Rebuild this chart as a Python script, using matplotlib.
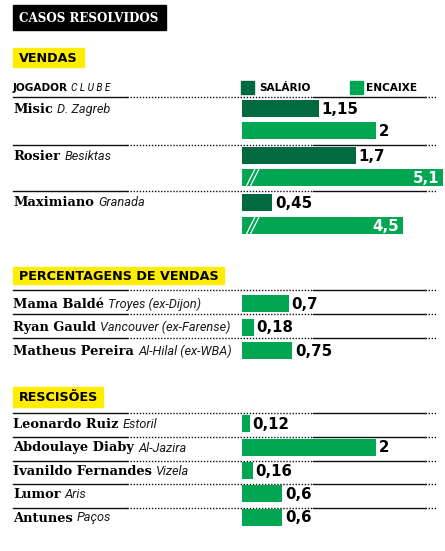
import matplotlib
matplotlib.use("Agg")
import matplotlib.pyplot as plt
from matplotlib.patches import Rectangle

# Dados (milhões de euros)
vendas_jogadores = ["Misic", "Rosier", "Maximiano"]
vendas_clubes = ["D. Zagreb", "Besiktas", "Granada"]
vendas_salario = [1.15, 1.7, 0.45]
vendas_encaixe = [2, 5.1, 4.5]

pct_jogadores = ["Mama Baldé", "Ryan Gauld", "Matheus Pereira"]
pct_clubes = ["Troyes (ex-Dijon)", "Vancouver (ex-Farense)", "Al-Hilal (ex-WBA)"]
pct_valores = [0.7, 0.18, 0.75]

resc_jogadores = ["Leonardo Ruiz", "Abdoulaye Diaby", "Ivanildo Fernandes", "Lumor", "Antunes"]
resc_clubes = ["Estoril", "Al-Jazira", "Vizela", "Aris", "Paços"]
resc_valores = [0.12, 2, 0.16, 0.6, 0.6]

ESCALA_MAX = 3.0      # acima disto a barra é "partida"
CORTE = 2.1           # valor retirado às barras partidas

VERDE_ESC = "#00693f"
VERDE = "#00a651"
AMARELO = "#ffed00"

W, H = 445, 551
fig = plt.figure(figsize=(W / 100, H / 100), dpi=100)
ax = fig.add_axes([0, 0, 1, 1])
ax.set_xlim(0, W)
ax.set_ylim(H, 0)
ax.axis("off")

# eixo das barras (escala em valores, ~67 px por unidade)
X0 = 242
bx = fig.add_axes([X0 / W, 0, (W - X0) / W, 1])
bx.set_xlim(0, (W - X0) / 67)
bx.set_ylim(H, 0)
bx.axis("off")
bx.patch.set_alpha(0)

NOME = dict(family="DejaVu Serif", weight="bold", size=9.4)
CLUBE = dict(family="Roboto", style="italic", weight="normal", size=9.2, color="#1a1a1a")
VALOR = dict(family="DejaVu Sans", weight="bold", size=10.8)
SECCAO = dict(family="DejaVu Sans", weight="bold", size=9.2)


def separador(y):
    ax.plot([13, 127], [y, y], color="#111111", lw=1.0)
    ax.plot([127, 313], [y, y], color="#111111", lw=1.0, ls=(0, (1, 1.2)))
    ax.plot([313, 425], [y, y], color="#111111", lw=1.0)
    ax.plot([425, 437], [y, y], color="#111111", lw=1.0, ls=(0, (1, 1.2)))


def nome(y, jogador, clube):
    t = ax.text(13, y + 4.5, jogador, va="baseline", ha="left", **NOME)
    ax.annotate(clube, xy=(1, y + 4.5), xycoords=(t, "data"),
                xytext=(3, 0), textcoords="offset points",
                va="baseline", ha="left", **CLUBE)


def barra(y, v, cor, h=17):
    if v > ESCALA_MAX:
        comp = v - CORTE
        bx.barh(y, comp, height=h, left=0, color=cor)
        for dx in (0.07, 0.13):
            bx.plot([dx, dx + 0.12], [y + h / 2 - 0.5, y - h / 2 + 0.5], color="white", lw=0.9)
        bx.text(comp - 0.06, y + 1, f"{v:g}".replace(".", ","), ha="right",
                va="center", color="white", **VALOR)
    else:
        bx.barh(y, v, height=h, left=0, color=cor)
        bx.text(v + 0.04, y + 1, f"{v:g}".replace(".", ","), ha="left",
                va="center", color="black", **VALOR)


def caixa(x, y, w, h, texto, fundo, cor, **kw):
    ax.add_patch(Rectangle((x, y), w, h, color=fundo))
    ax.text(x + 6, y + h / 2 + 0.5, texto, ha="left", va="center", color=cor, **kw)


# título
caixa(13, 5, 153, 25, "CASOS RESOLVIDOS", "black", "white",
      family="DejaVu Serif", weight="bold", size=8.6)

# VENDAS
caixa(13, 48, 71, 19, "VENDAS", AMARELO, "black", **SECCAO)
t = ax.text(13, 91, "JOGADOR", va="baseline", ha="left", family="DejaVu Sans",
            weight="bold", size=7.6)
ax.annotate("C L U B E", xy=(1, 91), xycoords=(t, "data"), xytext=(2, 0),
            textcoords="offset points", va="baseline", ha="left",
            family="Roboto", style="italic", size=7.2)
ax.add_patch(Rectangle((241, 81), 13, 13, color=VERDE_ESC))
ax.text(259, 91, "SALÁRIO", va="baseline", family="DejaVu Sans", weight="bold", size=7.6)
ax.add_patch(Rectangle((350, 81), 13, 13, color=VERDE))
ax.text(366, 91, "ENCAIXE", va="baseline", family="DejaVu Sans", weight="bold", size=7.6)

separador(97)
linhas_vendas = [(108.5, 130.5), (155.7, 177.5), (202, 225.5)]
for i, (ys, ye) in enumerate(linhas_vendas):
    nome(ys, vendas_jogadores[i], vendas_clubes[i])
    barra(ys, vendas_salario[i], VERDE_ESC)
    barra(ye, vendas_encaixe[i], VERDE)
separador(144.7)
separador(191.3)

# PERCENTAGENS DE VENDAS
caixa(13, 266.7, 211, 17.6, "PERCENTAGENS DE VENDAS", AMARELO, "black", **SECCAO)
ys_pct = [303.7, 327, 350.3]
for y in (290, 314.3, 337.7):
    separador(y)
for y, j, c, v in zip(ys_pct, pct_jogadores, pct_clubes, pct_valores):
    nome(y, j, c)
    barra(y, v, VERDE)

# RESCISÕES
caixa(13, 387.3, 90, 19.4, "RESCISÕES", AMARELO, "black", **SECCAO)
ys_resc = [423.7, 447, 470.7, 493.7, 517]
for y in (413.3, 436.7, 461, 484.3, 507.7):
    separador(y)
for y, j, c, v in zip(ys_resc, resc_jogadores, resc_clubes, resc_valores):
    nome(y, j, c)
    barra(y, v, VERDE)

fig.savefig("out.png", dpi=100)
